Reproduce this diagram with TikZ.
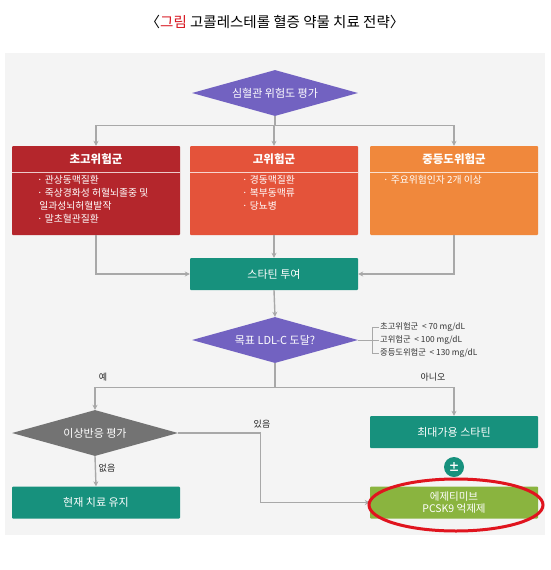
\documentclass[tikz,border=0pt]{standalone}
\usepackage{fontspec}
\setmainfont{Noto Sans CJK KR}
\usetikzlibrary{shapes.geometric,arrows.meta,positioning}

\definecolor{bgGray}{HTML}{F4F4F4}
\definecolor{lineGray}{HTML}{A8A8A8}
\definecolor{riskPurple}{HTML}{7262C1}
\definecolor{aeGray}{HTML}{737373}
\definecolor{vhRed}{HTML}{B4262C}
\definecolor{hrRed}{HTML}{E4533A}
\definecolor{mrOrange}{HTML}{F0883C}
\definecolor{statTeal}{HTML}{17917D}
\definecolor{ezGreen}{HTML}{8AB43F}
\definecolor{markRed}{HTML}{E0141E}
\definecolor{titleRed}{HTML}{D7141E}

\begin{document}
\begin{tikzpicture}[x=1pt,y=-1pt,
    conn/.style={draw=lineGray, line width=1.4pt, -{Stealth[length=5pt,width=5pt]}},
    plain/.style={draw=lineGray, line width=1.4pt},
    decision/.style={diamond, aspect=3.6, minimum width=166pt, minimum height=46pt, inner sep=0pt, text=white, font=\fontsize{11}{13}\selectfont},
    riskbox/.style={rectangle, rounded corners=1pt, minimum width=168pt, minimum height=89pt, inner sep=0pt},
    actbox/.style={rectangle, rounded corners=1pt, fill=statTeal, minimum width=168pt, minimum height=32pt, inner sep=0pt, text=white, font=\fontsize{11}{13}\selectfont},
    headtext/.style={text=white, font=\bfseries\fontsize{11.5}{13}\selectfont},
    bodytext/.style={text=white, anchor=north west, align=left, inner sep=0pt, font=\fontsize{9.8}{13}\selectfont},
    notetext/.style={text=black!80, anchor=west, inner sep=1pt, font=\fontsize{8.3}{9}\selectfont},
    labeltext/.style={text=black!85, font=\fontsize{9}{10}\selectfont}]
    \def\riskBox[#1,#2,#3,#4]{% risk group box: x centre, name, colour, header text
        \node [riskbox, fill=#3] (#2) at (#1,190.5) {};
        \draw [white!75!#3, line width=0.6pt] (#1-84,172.5) -- (#1+84,172.5);
        \node [headtext] (#2head) at (#1,159) {#4};
    }
    \useasboundingbox (0,0) rectangle (550,570);
    % Background and title
    \fill [bgGray] (5,53) rectangle (545,535);
    \node [font=\fontsize{14.5}{16}\selectfont] (title) at (275,22) {〈\textcolor{titleRed}{그림} 고콜레스테롤 혈증 약물 치료 전략〉};
    % Risk assessment
    \node [decision, fill=riskPurple] (risk) at (275,93) {심혈관 위험도 평가};
    \riskBox[96,vh,vhRed,초고위험군]
    \riskBox[274,hr,hrRed,고위험군]
    \riskBox[454,mr,mrOrange,중등도위험군]
    \node [bodytext] (vhbody) at (37,175) {· 관상동맥질환\\· 죽상경화성 허혈뇌졸중 및\\\ 일과성뇌허혈발작\\· 말초혈관질환};
    \node [bodytext] (hrbody) at (242,175) {· 경동맥질환\\· 복부동맥류\\· 당뇨병};
    \node [bodytext] (mrbody) at (383,175) {· 주요위험인자 2개 이상};
    \draw [plain] (risk.south) -- ++(0,9) coordinate (riskSplit);
    \foreach \b in {vh,hr,mr}
        \draw [conn] (riskSplit) -| (\b.north);
    % Statin
    \node [actbox] (statin) at (274,274) {스타틴 투여};
    \draw [conn] (vh.south) |- (statin.west);
    \draw [conn] (hr.south) -- (statin.north);
    \draw [conn] (mr.south) |- (statin.east);
    % LDL goal
    \node [decision, fill=riskPurple] (ldl) at (275,340) {목표 LDL-C 도달?};
    \draw [conn] (statin.south) -- (ldl.north);
    \node [notetext] (goal1) at (379,327) {초고위험군 \ <\ 70 mg/dL};
    \node [notetext] (goal2) at (379,340) {고위험군 \ <\ 100 mg/dL};
    \node [notetext] (goal3) at (379,353) {중등도위험군 \ <\ 130 mg/dL};
    \draw [plain, line width=0.8pt] (ldl.east) -- ++(14,0) coordinate (goalBr);
    \draw [plain, line width=0.8pt] (goal1.west) -| (goalBr) |- (goal3.west);
    \draw [plain, line width=0.8pt] (goalBr) -- (goal2.west);
    % Yes / No branches
    \node [decision, fill=aeGray] (ae) at (95,433) {이상반응 평가};
    \node [actbox] (maxstat) at (454,432) {최대가용 스타틴};
    \draw [plain] (ldl.south) -- ++(0,24) coordinate (ldlSplit);
    \draw [conn] (ldlSplit) -| (ae.north);
    \draw [conn] (ldlSplit) -| (maxstat.north);
    \node [labeltext] (yes) at (103,377) {예};
    \node [labeltext] (no) at (433,377) {아니오};
    % Outcomes
    \node [actbox] (keep) at (96,502.5) {현재 치료 유지};
    \node [actbox, fill=ezGreen, align=center, font=\fontsize{10.5}{12.5}\selectfont] (ezet) at (454,502.5) {에제티미브\\PCSK9 억제제};
    \node [circle, fill=statTeal, text=white, minimum size=20pt, inner sep=0pt, font=\bfseries\fontsize{11}{12}\selectfont] (plusminus) at (454,467) {±};
    \draw [conn] (ae.south) -- (keep.north);
    \draw [conn] (ae.east) -- ++(82,0) |- (ezet.west);
    \node [labeltext] (present) at (262,424) {있음};
    \node [labeltext] (absent) at (107,468) {없음};
    % Highlight
    \node [ellipse, draw=markRed, line width=3pt, minimum width=174pt, minimum height=52pt] (highlight) at (456,505) {};
\end{tikzpicture}
\end{document}
